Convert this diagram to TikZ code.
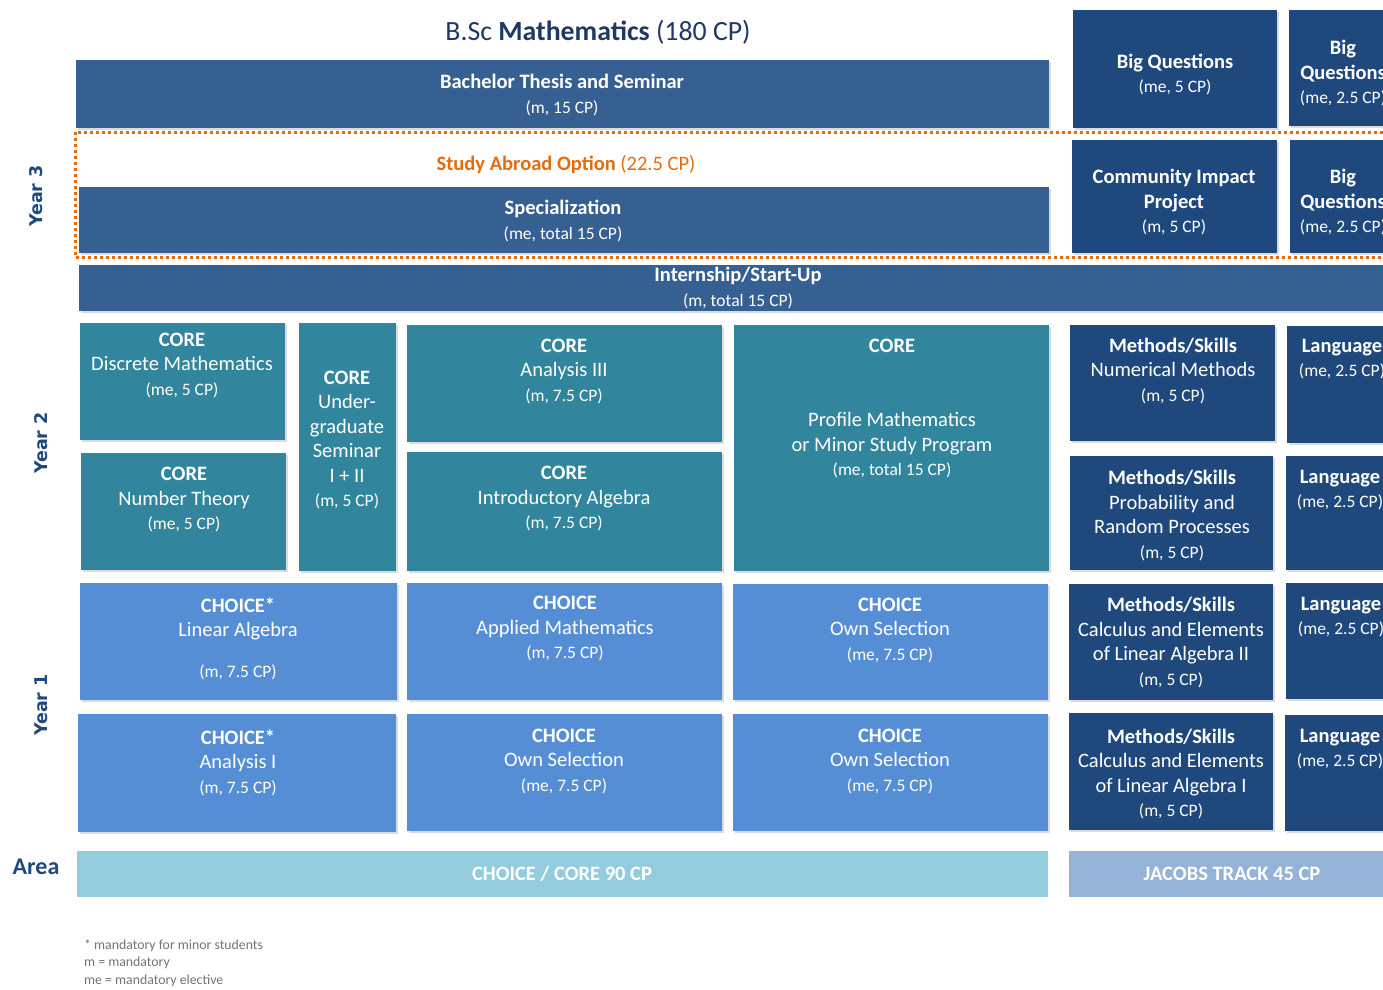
\documentclass[tikz,border=0pt]{standalone}
\usepackage{fontspec}
\setmainfont{Carlito}
\newfontfamily\yearfont{DejaVu Sans}
\definecolor{navy}{HTML}{1F3864}
\definecolor{yearblue}{HTML}{1F497D}
\definecolor{midblue}{HTML}{376092}
\definecolor{darkblue}{HTML}{1F497D}
\definecolor{coreteal}{HTML}{31859C}
\definecolor{choiceblue}{HTML}{558ED5}
\definecolor{areateal}{HTML}{93CDDD}
\definecolor{areablue}{HTML}{95B3D7}
\definecolor{abroad}{HTML}{E46C0A}
\def\modbox[#1](#2,#3)(#4,#5){\fill[black!14] (#2+1.5,#3+2) rectangle (#4+1.5,#5+2); \fill[#1] (#2,#3) rectangle (#4,#5);}
\newcommand\cp[1]{{\fontsize{17.5}{24.5}\selectfont #1}}

\begin{document}
\begin{tikzpicture}[x=1pt, y=-1pt,
		lbl/.style={text=white, align=center, inner sep=0pt, font=\fontsize{20.5}{24.5}\selectfont},
		yearlbl/.style={text=yearblue, inner sep=0pt, rotate=90, font=\yearfont\bfseries\fontsize{17.5}{20}\selectfont},
		arealbl/.style={text=white, inner sep=0pt, font=\bfseries\fontsize{20.5}{24}\selectfont}]
			%%%%% START %%%%%
			\useasboundingbox (0,0) rectangle (1383,989);
			\clip (0,0) rectangle (1383,989);
			
			\node[text=navy, font=\fontsize{27.8}{32}\selectfont] (title) at (598,32) {B.Sc \textbf{Mathematics} (180 CP)};
			
			% year 3
			\modbox[midblue](76,60)(1049,128)
			\node[lbl] (thesis) at (562,95) {\textbf{Bachelor Thesis and Seminar}\\\cp{(m, 15 CP)}};
			\modbox[midblue](79,187)(1049,253)
			\node[lbl] (special) at (563,221) {\textbf{Specialization}\\\cp{(me, total 15 CP)}};
			\node[text=abroad, inner sep=0pt, font=\fontsize{20.5}{24}\selectfont] (abroad) at (566,165) {\textbf{Study Abroad Option} (22.5 CP)};
			
			\modbox[darkblue](1073,10)(1277,128)
			\node[lbl] (bigq) at (1175,74.5) {\textbf{Big Questions}\\\cp{(me, 5 CP)}};
			\modbox[darkblue](1289,10)(1400,126)
			\node[lbl] (bigqa) at (1343,73.5) {\textbf{Big}\\\textbf{Questions}\\\cp{(me, 2.5 CP)}};
			\modbox[darkblue](1072,140)(1277,253)
			\node[lbl] (impact) at (1174,202.5) {\textbf{Community Impact}\\\textbf{Project}\\\cp{(m, 5 CP)}};
			\modbox[darkblue](1290,140)(1400,253)
			\node[lbl] (bigqb) at (1343,202.5) {\textbf{Big}\\\textbf{Questions}\\\cp{(me, 2.5 CP)}};
			
			\draw[abroad, line width=3pt, dash pattern=on 3pt off 3pt] (75,132) rectangle (1420,257);
			
			\modbox[midblue](79,265)(1420,311)
			\node[lbl] (intern) at (738,288) {\textbf{Internship/Start-Up}\\\cp{(m, total 15 CP)}};
			
			% year 2
			\modbox[coreteal](80,323)(285,440)
			\node[lbl] (discrete) at (182,365) {\textbf{CORE}\\Discrete Mathematics\\\cp{(me, 5 CP)}};
			\modbox[coreteal](81,453)(286,570)
			\node[lbl] (numtheory) at (184,499.5) {\textbf{CORE}\\Number Theory\\\cp{(me, 5 CP)}};
			\modbox[coreteal](299,323)(396,571)
			\node[lbl] (seminar) at (347,440) {\textbf{CORE}\\Under-\\graduate\\Seminar\\I + II\\\cp{(m, 5 CP)}};
			\modbox[coreteal](407,325)(722,442)
			\node[lbl] (analysisiii) at (564,371) {\textbf{CORE}\\Analysis III\\\cp{(m, 7.5 CP)}};
			\modbox[coreteal](407,452)(722,571)
			\node[lbl] (algebra) at (564,498.5) {\textbf{CORE}\\Introductory Algebra\\\cp{(m, 7.5 CP)}};
			\modbox[coreteal](734,325)(1049,571)
			\node[lbl] (profile) at (892,408.5) {\textbf{CORE}\\[50pt]Profile Mathematics\\or Minor Study Program\\\cp{(me, total 15 CP)}};
			
			\modbox[darkblue](1070,325)(1275,441)
			\node[lbl] (numerics) at (1173,371) {\textbf{Methods/Skills}\\Numerical Methods\\\cp{(m, 5 CP)}};
			\modbox[darkblue](1287,326)(1400,443)
			\node[lbl] (langa) at (1342,359) {\textbf{Language}\\\cp{(me, 2.5 CP)}};
			\modbox[darkblue](1070,456)(1273,570)
			\node[lbl] (probab) at (1172,515.5) {\textbf{Methods/Skills}\\Probability and\\Random Processes\\\cp{(m, 5 CP)}};
			\modbox[darkblue](1286,456)(1400,570)
			\node[lbl] (langb) at (1340,490) {\textbf{Language}\\\cp{(me, 2.5 CP)}};
			
			% year 1
			\modbox[choiceblue](80,583)(397,700)
			\node[lbl] (linalg) at (238,638.5) {\textbf{CHOICE*}\\Linear Algebra\\[16pt]\cp{(m, 7.5 CP)}};
			\modbox[choiceblue](407,583)(722,700)
			\node[lbl] (applied) at (565,628.5) {\textbf{CHOICE}\\Applied Mathematics\\\cp{(m, 7.5 CP)}};
			\modbox[choiceblue](733,584)(1048,700)
			\node[lbl] (owna) at (890,630) {\textbf{CHOICE}\\Own Selection\\\cp{(me, 7.5 CP)}};
			\modbox[darkblue](1069,584)(1273,700)
			\node[lbl] (calcii) at (1171,642.5) {\textbf{Methods/Skills}\\Calculus and Elements\\of Linear Algebra II\\\cp{(m, 5 CP)}};
			\modbox[darkblue](1286,583)(1400,699)
			\node[lbl] (langc) at (1341,617) {\textbf{Language}\\\cp{(me, 2.5 CP)}};
			
			\modbox[choiceblue](78,714)(396,832)
			\node[lbl] (analysisi) at (238,762.5) {\textbf{CHOICE*}\\Analysis I\\\cp{(m, 7.5 CP)}};
			\modbox[choiceblue](407,714)(722,831)
			\node[lbl] (ownb) at (564,761) {\textbf{CHOICE}\\Own Selection\\\cp{(me, 7.5 CP)}};
			\modbox[choiceblue](733,714)(1048,831)
			\node[lbl] (ownc) at (890,761) {\textbf{CHOICE}\\Own Selection\\\cp{(me, 7.5 CP)}};
			\modbox[darkblue](1069,713)(1273,830)
			\node[lbl] (calci) at (1171,774) {\textbf{Methods/Skills}\\Calculus and Elements\\of Linear Algebra I\\\cp{(m, 5 CP)}};
			\modbox[darkblue](1285,715)(1400,831)
			\node[lbl] (langd) at (1340,749) {\textbf{Language}\\\cp{(me, 2.5 CP)}};
			
			% area
			\fill[areateal] (77,851) rectangle (1048,897);
			\node[arealbl] (choicecore) at (562,874) {CHOICE / CORE 90 CP};
			\fill[areablue] (1069,851) rectangle (1420,897);
			\node[arealbl] (jacobs) at (1232,874) {JACOBS TRACK 45 CP};
			
			\node[yearlbl] (yearc) at (36,196) {Year 3};
			\node[yearlbl] (yearb) at (41,443) {Year 2};
			\node[yearlbl] (yeara) at (41,705) {Year 1};
			\node[text=yearblue, inner sep=0pt, font=\bfseries\fontsize{24}{28}\selectfont] (area) at (36,867) {Area};
			
			\node[anchor=north west, align=left, inner sep=0pt, text=black!55, font=\fontsize{13.8}{17.5}\selectfont] (notes) at (84,939) {* mandatory for minor students\\m = mandatory\\me = mandatory elective};
			%%%%% END %%%%%
\end{tikzpicture}
\end{document}
